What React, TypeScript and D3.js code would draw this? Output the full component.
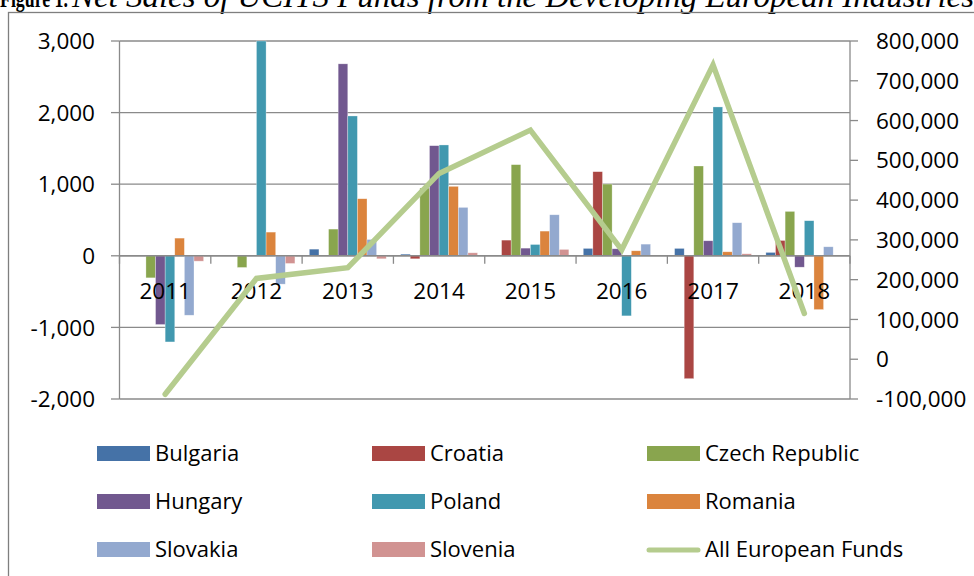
import React from "react";
import * as d3 from "d3";

const years = ["2011", "2012", "2013", "2014", "2015", "2016", "2017", "2018"];
const seriesNames = ["Bulgaria", "Croatia", "Czech Republic", "Hungary", "Poland", "Romania", "Slovakia", "Slovenia"];
const seriesColors = ["#4572A7", "#AA4643", "#89A54E", "#71588F", "#4198AF", "#DB843D", "#93A9CF", "#D19392"];

const bulgaria = [0, 0, 93, 23, 0, 103, 103, 47];
const croatia = [0, 0, 0, -42, 219, 1175, -1716, 214];
const czech = [-308, -163, 373, 946, 1273, 1002, 1254, 620];
const hungary = [-960, 0, 2681, 1538, 107, 98, 210, -159];
const poland = [-1203, 3000, 1953, 1548, 158, -839, 2079, 490];
const romania = [247, 331, 797, 970, 345, 70, 56, -751];
const slovakia = [-830, -396, 228, 676, 573, 163, 462, 126];
const slovenia = [-75, -107, -42, 42, 89, 0, 28, 0];
const allEuropean = [-88000, 203000, 230000, 467000, 576000, 275000, 740000, 115000];

const leftTicks = [-2000, -1000, 0, 1000, 2000, 3000];
const rightTicks = [-100000, 0, 100000, 200000, 300000, 400000, 500000, 600000, 700000, 800000];

const lineName = "All European Funds";
const lineColor = "#B5CC8E";

const titleBold = "Figure 1.";
const titleItalic = "Net Sales of UCITS Funds from the Developing European Industries";

const seriesValues = [bulgaria, croatia, czech, hungary, poland, romania, slovakia, slovenia];

const fmt = d3.formatLocale({ decimal: ".", thousands: ",", grouping: [3], currency: ["$", ""], minus: "-" }).format(",");

export default function App() {
  const W = 974, H = 576;
  const left = 119.5, right = 850, top = 41, bottom = 399;
  const font = "'Open Sans', sans-serif";
  const serif = "'Liberation Serif', 'Times New Roman', serif";

  const x0 = d3.scaleBand<string>().domain(years).range([left, right]).padding(0);
  const x1 = d3.scaleBand<string>().domain(seriesNames).range([0, x0.bandwidth()]).paddingInner(0).paddingOuter(0.75);
  const yL = d3.scaleLinear().domain([-2000, 3000]).range([bottom, top]);
  const yR = d3.scaleLinear().domain([-100000, 800000]).range([bottom, top]);
  const y0 = yL(0);

  const line = d3.line<number>()
    .x((_, i) => (x0(years[i]) as number) + x0.bandwidth() / 2)
    .y((d) => yR(d));

  const gridColor = "#8A8A8A";

  const legendCols = [97, 372, 647];
  const legendRows = [446, 494, 542];
  const legendItems = [...seriesNames.map((n, i) => ({ name: n, color: seriesColors[i], type: "bar" })), { name: lineName, color: lineColor, type: "line" }];

  return (
    <svg width={W} height={H} style={{ position: "absolute", left: 0, top: 0, background: "#fff" }} xmlns="http://www.w3.org/2000/svg">
      <rect x={0} y={0} width={W} height={H} fill="#fff" />
      {/* title */}
      <text x={0} y={7} fontFamily={serif} fontSize={26} fontWeight="bold" textLength={68} lengthAdjust="spacingAndGlyphs">{titleBold}</text>
      <text x={72} y={7} fontFamily={serif} fontSize={31} fontStyle="italic" textLength={902} lengthAdjust="spacingAndGlyphs">{titleItalic}</text>
      {/* chart border */}
      <rect x={8.5} y={12.5} width={W + 20} height={H + 20} fill="none" stroke="#7F7F7F" strokeWidth={1.3} />

      {/* gridlines */}
      {leftTicks.map((t) => (
        <line key={"g" + t} x1={left} x2={right} y1={yL(t)} y2={yL(t)} stroke={gridColor} strokeWidth={1.3} />
      ))}
      {/* left axis */}
      <line x1={left} x2={left} y1={top} y2={bottom} stroke={gridColor} strokeWidth={1.3} />
      {leftTicks.map((t) => (
        <g key={"lt" + t}>
          <line x1={left - 8.5} x2={left} y1={yL(t)} y2={yL(t)} stroke={gridColor} strokeWidth={1.3} />
          <text x={95} y={yL(t)} dy="0.36em" textAnchor="end" fontFamily={font} fontSize={22.5} fill="#000">{fmt(t)}</text>
        </g>
      ))}
      {/* right axis */}
      <line x1={right} x2={right} y1={top} y2={bottom} stroke={gridColor} strokeWidth={1.3} />
      {rightTicks.map((t) => (
        <g key={"rt" + t}>
          <line x1={right} x2={right + 8} y1={yR(t)} y2={yR(t)} stroke={gridColor} strokeWidth={1.3} />
          <text x={876} y={yR(t)} dy="0.36em" textAnchor="start" fontFamily={font} fontSize={22.5} fill="#000">{fmt(t)}</text>
        </g>
      ))}

      {/* bars */}
      {years.map((yr, i) => (
        <g key={"bars" + yr}>
          {seriesNames.map((s, j) => {
            const v = seriesValues[j][i];
            if (v === 0) return null;
            const bx = (x0(yr) as number) + (x1(s) as number);
            const yv = yL(v);
            return (
              <rect key={s} x={bx} width={x1.bandwidth()} y={Math.min(yv, y0)} height={Math.abs(yv - y0)} fill={seriesColors[j]} stroke="#ffffff" strokeOpacity={0.5} strokeWidth={0.6} />
            );
          })}
        </g>
      ))}

      {/* category axis */}
      <line x1={left} x2={right} y1={y0} y2={y0} stroke={gridColor} strokeWidth={1.5} />
      {years.map((yr) => (
        <line key={"ct" + yr} x1={x0(yr) as number} x2={x0(yr) as number} y1={y0} y2={y0 + 8} stroke={gridColor} strokeWidth={1.3} />
      ))}
      <line x1={right} x2={right} y1={y0} y2={y0 + 8} stroke={gridColor} strokeWidth={1.3} />
      {years.map((yr) => (
        <text key={"cl" + yr} x={(x0(yr) as number) + x0.bandwidth() / 2} y={299} textAnchor="middle" fontFamily={font} fontSize={22.5} fill="#000">{yr}</text>
      ))}

      {/* line series */}
      <path d={line(allEuropean) || ""} fill="none" stroke={lineColor} strokeWidth={5.5} strokeLinecap="round" strokeLinejoin="miter" />

      {/* legend */}
      {legendItems.map((it, k) => {
        const cx = legendCols[k % 3];
        const ry = legendRows[Math.floor(k / 3)];
        return (
          <g key={"lg" + it.name}>
            {it.type === "bar" ? (
              <rect x={cx} y={ry} width={53} height={15} fill={it.color} />
            ) : (
              <line x1={cx + 2} x2={cx + 51} y1={ry + 8} y2={ry + 8} stroke={it.color} strokeWidth={5} strokeLinecap="round" />
            )}
            <text x={cx + 58} y={ry + 15} fontFamily={font} fontSize={22} fill="#000">{it.name}</text>
          </g>
        );
      })}
    </svg>
  );
}
